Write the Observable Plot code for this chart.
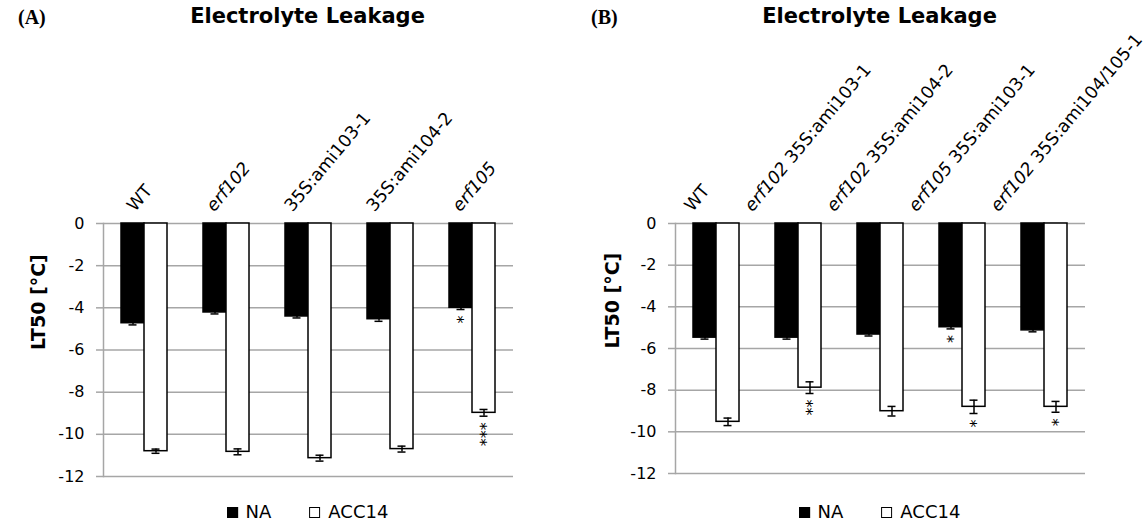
<!DOCTYPE html>
<html><head><meta charset="utf-8">
<script src="https://cdn.jsdelivr.net/npm/d3@7"></script>
<script src="https://cdn.jsdelivr.net/npm/@observablehq/plot@0.6"></script>
<style>
body{margin:0;background:#fff;font-family:"DejaVu Sans",sans-serif;}
#root{position:relative;width:1147px;height:524px;overflow:hidden;background:#fff;}
.panel{position:absolute;top:0;}
.tag{position:absolute;top:7px;font-family:"Liberation Serif",serif;font-weight:bold;font-size:20px;line-height:1;}
.title{position:absolute;top:6px;font-weight:bold;font-size:21px;line-height:1;transform:translateX(-50%);white-space:nowrap;}
.legend{position:absolute;top:503px;font-size:18px;line-height:1;transform:translateX(-50%);white-space:nowrap;display:flex;align-items:center;}
.sw{display:inline-block;width:9px;height:9px;border:1px solid #000;margin-right:8px;}
.item{display:flex;align-items:center;}
</style></head><body><div id="root"></div>
<script>
// ---- data ----
const seriesNames = ["NA", "ACC14"];
const yTicks = [0, -2, -4, -6, -8, -10, -12];
const yLabel = "LT50 [°C]";
const titleText = "Electrolyte Leakage";

const groupsA = ["WT", "erf102", "35S:ami103-1", "35S:ami104-2", "erf105"];
const naA = [-4.73, -4.22, -4.41, -4.54, -4.0];
const naErrA = [0.08, 0.07, 0.07, 0.1, 0.08];
const accA = [-10.8, -10.83, -11.13, -10.7, -8.98];
const accErrA = [0.1, 0.14, 0.14, 0.14, 0.16];
const sigNaA = ["", "", "", "", "*"];
const sigAccA = ["", "", "", "", "***"];

const groupsB = ["WT", "erf102 35S:ami103-1", "erf102 35S:ami104-2", "erf105 35S:ami103-1", "erf102 35S:ami104/105-1"];
const naB = [-5.48, -5.48, -5.33, -4.98, -5.13];
const naErrB = [0.07, 0.07, 0.07, 0.08, 0.07];
const accB = [-9.52, -7.88, -9.01, -8.8, -8.8];
const accErrB = [0.18, 0.28, 0.23, 0.32, 0.26];
const sigNaB = ["", "", "", "*", ""];
const sigAccB = ["", "**", "", "*", "*"];

function buildRows(groups, na, naErr, acc, accErr, sigNa, sigAcc) {
  const rows = [];
  groups.forEach((g, i) => {
    rows.push({group: g, series: seriesNames[0], value: na[i], err: naErr[i], sig: sigNa[i]});
    rows.push({group: g, series: seriesNames[1], value: acc[i], err: accErr[i], sig: sigAcc[i]});
  });
  return rows;
}

const root = document.getElementById("root");

function makePanel(cfg) {
  const {groups, rows, left, width, ml, mr, mb, labelBase, labelSlope, labelCap, tag} = cfg;
  const grid = "#a6a6a6";
  const naRows = rows.filter(d => d.series === seriesNames[0]);
  const accRows = rows.filter(d => d.series === seriesNames[1]);
  const common = {fx: "group", x: "series"};
  const labelMarks = groups.map(g => Plot.text([g], {
    fx: d => d, text: d => d, frameAnchor: "top", rotate: -50,
    textAnchor: "start", lineAnchor: "bottom", fill: "#000",
    dx: -Math.min(labelCap, labelBase + labelSlope * g.length), dy: -11, fontSize: 17.5
  }));
  const plot = Plot.plot({
    width, height: 490,
    marginLeft: ml, marginRight: mr, marginTop: 223, marginBottom: mb,
    style: {fontFamily: '"DejaVu Sans", sans-serif', fontSize: "16px", color: "#000", background: "none", overflow: "visible"},
    fx: {domain: groups, padding: 0, axis: null, label: null},
    x: {domain: seriesNames, paddingInner: 0, paddingOuter: 0.75, axis: null, label: null},
    y: {domain: [-12, 0], axis: null, label: null},
    marks: [
      Plot.ruleY(yTicks, {stroke: grid, strokeWidth: 1.5}),
      Plot.frame({anchor: "left", facetAnchor: "left", stroke: grid, strokeWidth: 1.5}),
      Plot.axisY(yTicks, {tickSize: 7, tickPadding: 12, stroke: grid, strokeWidth: 1.5, fill: "#000", tickFormat: d => String(d), label: null, fontSize: 16}),
      Plot.text([groups[0]], {fx: d => d, frameAnchor: "left", dx: -(ml - 37), text: () => yLabel, rotate: -90, fontWeight: "bold", fontSize: 19, fill: "#000"}),
      Plot.barY(naRows, {...common, y: "value", fill: "#000", stroke: "#000", strokeWidth: 1.5}),
      Plot.barY(accRows, {...common, y: "value", fill: "#fff", stroke: "#000", strokeWidth: 1.5}),
      Plot.ruleX(rows, {...common, y1: d => d.value - d.err, y2: d => d.value + d.err, stroke: "#000", strokeWidth: 1.5}),
      Plot.tickY(rows, {...common, y: d => d.value - d.err, insetLeft: 7.5, insetRight: 7.5, stroke: "#000", strokeWidth: 1.5}),
      Plot.tickY(rows, {...common, y: d => d.value + d.err, insetLeft: 7.5, insetRight: 7.5, stroke: "#000", strokeWidth: 1.5}),
      // significance stars, stacked vertically (text runs downward)
      Plot.text(rows.filter(d => d.sig), {...common, y: d => d.value - d.err, text: "sig", rotate: 90, textAnchor: "start", lineAnchor: "middle", dx: -4, dy: 6, fontSize: 16, fill: "#000"}),
      ...labelMarks
    ]
  });
  // italicise gene names in labels
  const labelSet = new Set(groups);
  plot.querySelectorAll("text").forEach(t => {
    const s = t.textContent;
    if (labelSet.has(s) && /erf\d+/.test(s)) {
      t.textContent = "";
      s.split(/(erf\d+)/).forEach(part => {
        if (!part) return;
        const ts = document.createElementNS("http://www.w3.org/2000/svg", "tspan");
        ts.textContent = part;
        if (/^erf\d+$/.test(part)) ts.setAttribute("font-style", "italic");
        t.appendChild(ts);
      });
    }
  });
  const wrap = document.createElement("div");
  wrap.className = "panel";
  wrap.style.left = left + "px";
  wrap.appendChild(plot);
  root.appendChild(wrap);

  const cx = left + ml + (width - ml - mr) / 2;
  const tg = document.createElement("div");
  tg.className = "tag"; tg.style.left = (left + 18) + "px"; tg.textContent = tag;
  root.appendChild(tg);
  const tt = document.createElement("div");
  tt.className = "title"; tt.style.left = cx + "px"; tt.textContent = titleText;
  root.appendChild(tt);
  const lg = document.createElement("div");
  lg.className = "legend"; lg.style.left = cx + "px";
  lg.innerHTML = `<span class="item"><span class="sw" style="background:#000"></span>${seriesNames[0]}</span>` +
    `<span class="item" style="margin-left:38px"><span class="sw" style="background:#fff"></span>${seriesNames[1]}</span>`;
  root.appendChild(lg);
}

makePanel({groups: groupsA, rows: buildRows(groupsA, naA, naErrA, accA, accErrA, sigNaA, sigAccA),
  left: 0, width: 573, ml: 102, mr: 60, mb: 14, labelBase: 8, labelSlope: 0.7, labelCap: 16, tag: "(A)"});
makePanel({groups: groupsB, rows: buildRows(groupsB, naB, naErrB, accB, accErrB, sigNaB, sigAccB),
  left: 573, width: 574, ml: 100, mr: 61, mb: 17, labelBase: 21, labelSlope: 1.5, labelCap: 46, tag: "(B)"});
</script></body></html>
